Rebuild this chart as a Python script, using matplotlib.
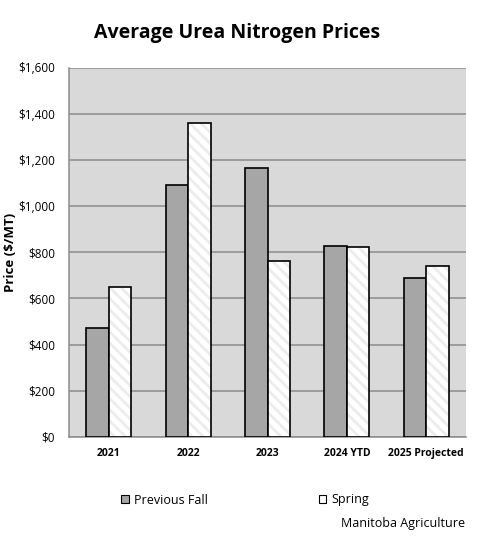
import matplotlib
matplotlib.use("Agg")
import matplotlib.pyplot as plt
import numpy as np
from matplotlib.patches import Patch

categories = ["2021", "2022", "2023", "2024 YTD", "2025 Projected"]
previous_fall = [471, 1091, 1165, 827, 688]
spring = [649, 1360, 762, 823, 740]
y_ticks = [0, 200, 400, 600, 800, 1000, 1200, 1400, 1600]
y_tick_labels = ["$0", "$200", "$400", "$600", "$800", "$1,000", "$1,200", "$1,400", "$1,600"]

plt.rcParams['font.family'] = ['Open Sans', 'DejaVu Sans']
plt.rcParams['hatch.linewidth'] = 2.0

W, H = 478, 545
fig = plt.figure(figsize=(W/100, H/100), dpi=100)
ax = fig.add_axes([69/W, 1-437/H, (466-69)/W, (437-67.5)/H])
ax.set_facecolor('#d9d9d9')

x = np.arange(len(categories))
bw = 0.283
b1 = ax.bar(x - bw/2, previous_fall, bw, color='#a6a6a6', edgecolor='black', linewidth=1.2, zorder=3, label='Previous Fall')
# hatch layer (light grey stripes on white)
ax.bar(x + bw/2, spring, bw, color='white', edgecolor='#ececec', linewidth=0, zorder=3, hatch='\\\\\\')
# outline layer
b2 = ax.bar(x + bw/2, spring, bw, color='none', edgecolor='black', linewidth=1.2, zorder=4, label='Spring')

ax.set_xlim(-0.5, len(categories) - 0.5)
ax.set_ylim(0, 1600)
ax.set_yticks(y_ticks)
ax.set_yticklabels(y_tick_labels, fontsize=8.5)
ax.set_xticks(x)
ax.set_xticklabels(categories, fontsize=7.5, fontweight='bold')
ax.tick_params(length=0, pad=8)
ax.tick_params(axis='y', pad=10)
ax.grid(axis='y', color='#8c8c8c', linewidth=1.1, zorder=1)
for s in ['top', 'right']:
    ax.spines[s].set_visible(False)
for s in ['left', 'bottom']:
    ax.spines[s].set_color('#8c8c8c')
    ax.spines[s].set_linewidth(1.1)

fig.text(11/W, 1-252/H, 'Price ($/MT)', rotation=90, ha='center', va='center', fontsize=9.5, fontweight='bold')
fig.text(237/W, 1-33/H, 'Average Urea Nitrogen Prices', ha='center', va='center', fontsize=14, fontweight='bold')

h1 = Patch(facecolor='#a6a6a6', edgecolor='black', linewidth=0.8)
h2 = Patch(facecolor='white', edgecolor='black', linewidth=0.8)
leg = fig.legend(handles=[h1, h2], labels=['Previous Fall', 'Spring'], loc='center', bbox_to_anchor=(245/W, 1-500/H),
                 ncol=2, frameon=False, fontsize=9, handlelength=0.6, handleheight=0.6,
                 columnspacing=8.9, handletextpad=0.4)

fig.text(465/W, 1-523/H, 'Manitoba Agriculture', ha='right', va='center', fontsize=9)

fig.savefig('out.png', dpi=100)
